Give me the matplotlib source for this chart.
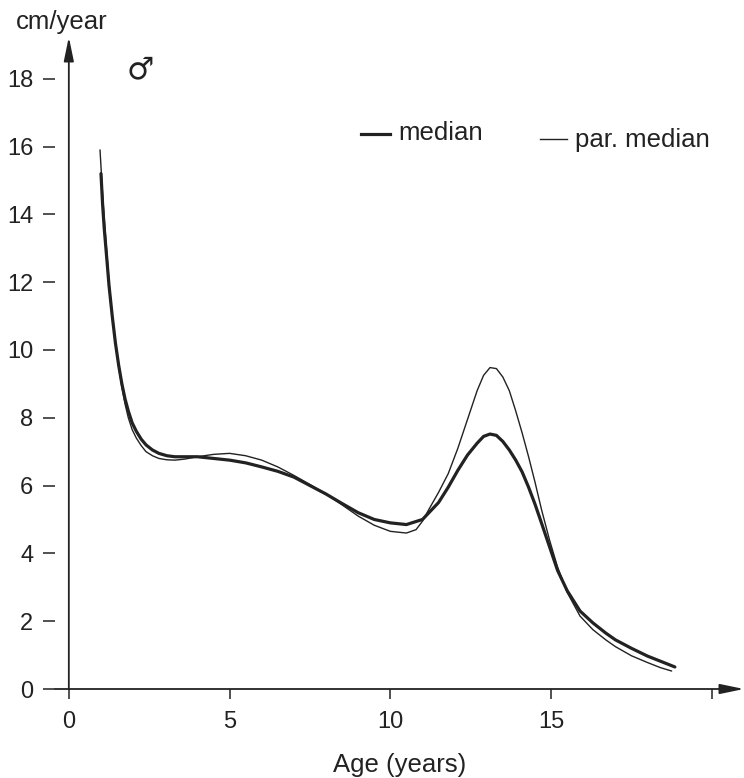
import matplotlib
matplotlib.use('Agg')
import matplotlib.pyplot as plt

plt.rcParams['font.family'] = ['Liberation Sans', 'DejaVu Sans']

# Growth velocity curves (boys)
age_median = [1.0, 1.05, 1.1, 1.18, 1.25, 1.35, 1.45, 1.55, 1.65, 1.75, 1.85, 1.97, 2.1, 2.25,
              2.4, 2.6, 2.8, 3.05, 3.3, 3.6, 4.0, 4.5, 5.0, 5.5, 6.0, 6.5, 7.0, 7.5, 8.0,
              8.5, 9.0, 9.5, 10.0, 10.5, 11.0, 11.2, 11.5, 11.8, 12.1, 12.4, 12.7, 12.9,
              13.1, 13.3, 13.5, 13.7, 13.9, 14.1, 14.3, 14.5, 14.7, 14.95, 15.2, 15.5,
              15.9, 16.3, 16.7, 17.0, 17.5, 18.0, 18.4, 18.85]
vel_median = [15.2, 14.3, 13.6, 12.7, 11.9, 11.0, 10.2, 9.55, 9.0, 8.55, 8.2, 7.85, 7.6, 7.37,
              7.2, 7.05, 6.95, 6.88, 6.85, 6.85, 6.85, 6.8, 6.75, 6.67, 6.55, 6.42, 6.25, 6.0, 5.75,
              5.47, 5.2, 5.0, 4.9, 4.85, 5.0, 5.2, 5.5, 5.95, 6.45, 6.9, 7.25, 7.45,
              7.52, 7.48, 7.3, 7.05, 6.75, 6.4, 5.95, 5.45, 4.9, 4.2, 3.5, 2.9,
              2.3, 1.95, 1.65, 1.45, 1.2, 0.97, 0.82, 0.65]

age_par = [0.97, 1.05, 1.1, 1.18, 1.25, 1.35, 1.45, 1.55, 1.65, 1.75, 1.85, 1.97, 2.1, 2.25,
           2.4, 2.6, 2.8, 3.05, 3.3, 3.6, 4.0, 4.5, 5.0, 5.5, 6.0, 6.5, 7.0, 7.5, 8.0,
           8.5, 9.0, 9.5, 10.0, 10.5, 10.8, 11.0, 11.2, 11.5, 11.8, 12.1, 12.4, 12.7, 12.9,
           13.1, 13.3, 13.5, 13.7, 13.9, 14.1, 14.3, 14.5, 14.7, 14.95, 15.2, 15.5,
           15.9, 16.3, 16.7, 17.0, 17.5, 18.0, 18.4, 18.75]
vel_par = [15.9, 14.6, 13.9, 12.9, 12.0, 11.0, 10.2, 9.5, 8.9, 8.4, 8.0, 7.65, 7.4, 7.18,
           7.0, 6.88, 6.8, 6.76, 6.75, 6.78, 6.85, 6.92, 6.95, 6.88, 6.75, 6.55, 6.3, 6.03, 5.75,
           5.43, 5.1, 4.83, 4.65, 4.6, 4.7, 4.95, 5.3, 5.8, 6.35, 7.1, 7.95, 8.8, 9.25,
           9.48, 9.45, 9.2, 8.8, 8.2, 7.55, 6.85, 6.1, 5.3, 4.4, 3.6, 2.85,
           2.15, 1.75, 1.45, 1.25, 0.98, 0.78, 0.63, 0.53]

x_ticks = [0, 5, 10, 15, 20]
x_tick_labels = ['0', '5', '10', '15', '']
y_ticks = [0, 2, 4, 6, 8, 10, 12, 14, 16, 18]

W, H = 744, 778
fig = plt.figure(figsize=(W / 100, H / 100), dpi=100)
ax = fig.add_axes([55 / W, 89 / H, 689 / W, 652 / H])
ax.set_xlim(-0.43, 21.0)
ax.set_ylim(0, 19.23)

ink = '#222222'
ax.plot(age_median, vel_median, color=ink, lw=2.3, solid_capstyle='round',
        solid_joinstyle='round')
ax.plot(age_par, vel_par, color=ink, lw=1.0, solid_capstyle='round',
        solid_joinstyle='round')

for s in ax.spines.values():
    s.set_visible(False)

# axis lines with arrow heads
arrow = dict(arrowstyle='-|>,head_length=1.45,head_width=0.3', lw=1.3, color=ink,
             mutation_scale=10, shrinkA=0, shrinkB=0)
ax.annotate('', xy=(21.0, 0), xytext=(-0.43, 0), arrowprops=arrow, annotation_clip=False)
ax.annotate('', xy=(0, 19.23), xytext=(0, 0), arrowprops=arrow, annotation_clip=False)

ax.set_xticks(x_ticks)
ax.set_xticklabels(x_tick_labels)
ax.set_yticks(y_ticks)
ax.tick_params(axis='x', direction='out', length=7, width=1.1, pad=9, labelsize=17,
               colors=ink)
ax.tick_params(axis='y', direction='out', length=8.5, width=1.1, pad=7, labelsize=17,
               colors=ink)
ax.set_xlabel('Age (years)', fontsize=18.5, color=ink, labelpad=14)

fig.text(62 / W, 1 - 22 / H, 'cm/year', fontsize=18.5, color=ink, ha='center', va='center')
fig.text(140 / W, 1 - 70 / H, '\u2642', fontsize=22, color=ink, ha='center', va='center',
         family='DejaVu Sans')

# legend
fig.add_artist(plt.Line2D([361 / W, 390 / W], [1 - 134 / H, 1 - 134 / H], color=ink, lw=2.3))
fig.text(398 / W, 1 - 133 / H, 'median', fontsize=18.5, color=ink, ha='left', va='center')
fig.add_artist(plt.Line2D([540 / W, 567 / W], [1 - 139 / H, 1 - 139 / H], color=ink, lw=1.0))
fig.text(575 / W, 1 - 140 / H, 'par. median', fontsize=18.5, color=ink, ha='left', va='center')

fig.savefig('out.png', dpi=100)
